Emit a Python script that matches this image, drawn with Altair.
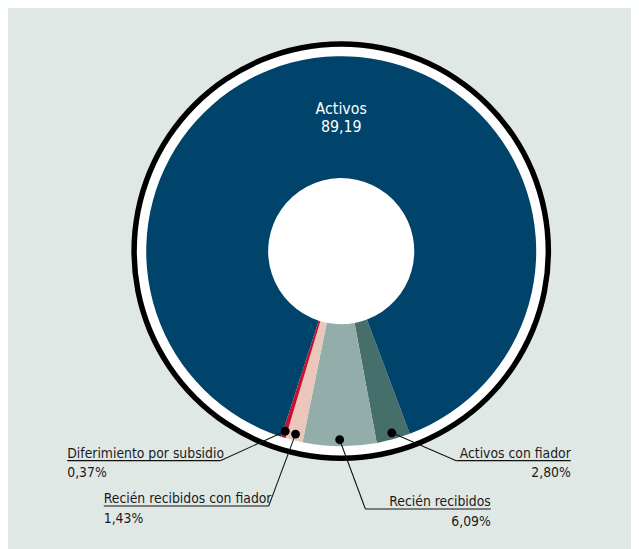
import altair as alt
import numpy as np
import pandas as pd

# ---- data ----
categories = ["Activos con fiador", "Recién recibidos", "Recién recibidos con fiador",
              "Diferimiento por subsidio", "Activos"]
values = [2.80, 6.09, 1.43, 0.37, 89.19]
pct_labels = ["2,80%", "6,09%", "1,43%", "0,37%", "89,19"]
colors = ["#466f6b", "#93adab", "#ebc6ba", "#c8102e", "#00436b"]

# ---- layout ----
W, H = 631, 541
CX, CY = 337.5, 242.8
R_OUT, R_IN = 197.5, 74
R_WHITE, R_BLACK = 207, 212.5
R_DOT = 191
START = np.deg2rad(159.4)
FONT = "DejaVu Sans Condensed"

df = pd.DataFrame({"cat": categories, "v": values, "order": range(len(values))})

# dots at mid angle of each slice (derived from data)
total = sum(values)
cum = np.cumsum([0] + values)
mid = START + 2 * np.pi * (cum[:-1] + np.array(values) / 2) / total
dots = pd.DataFrame({"cat": categories,
                     "x": CX + R_DOT * np.sin(mid),
                     "y": CY - R_DOT * np.cos(mid)})
dots = dots[dots.cat != "Activos"].reset_index(drop=True)

# callout layout (label anchor, underline)
call = pd.DataFrame({
    "cat": ["Diferimiento por subsidio", "Recién recibidos con fiador",
            "Recién recibidos", "Activos con fiador"],
    "pct": ["0,37%", "1,43%", "6,09%", "2,80%"],
    "side": ["left", "left", "right", "right"],
    "ux1": [60, 97, 489, 570],      # text anchor end of underline
    "ux2": [215, 264, 362, 454],    # elbow end
    "uy": [455, 501, 504, 455],
})
call = call.merge(dots, on="cat")
call["ty"] = call["uy"] - 3
call["py"] = call["uy"] + 17

xs = alt.Scale(domain=[0, W], range=[0, W], nice=False, zero=False)
ys = alt.Scale(domain=[0, H], range=[0, H], nice=False, zero=False)

one = pd.DataFrame({"a": [1]})

black = alt.Chart(one).mark_arc(theta=0, theta2=2 * np.pi, radius=R_BLACK, radius2=0,
                                color="#000000").encode(x=alt.value(CX), y=alt.value(CY))
white = alt.Chart(one).mark_arc(theta=0, theta2=2 * np.pi, radius=R_WHITE, radius2=0,
                                color="#ffffff").encode(x=alt.value(CX), y=alt.value(CY))

pie = alt.Chart(df).mark_arc(radius=R_OUT, radius2=R_IN).encode(
    theta=alt.Theta("v:Q", stack=True,
                    scale=alt.Scale(range=[float(START), float(START + 2 * np.pi)])),
    order=alt.Order("order:Q"),
    color=alt.Color("cat:N", scale=alt.Scale(domain=categories, range=colors), legend=None),
    x=alt.value(CX), y=alt.value(CY),
)

seg1 = alt.Chart(call).mark_rule(color="#111111", strokeWidth=1.1).encode(
    x=alt.X("x:Q", scale=xs, axis=None), y=alt.Y("y:Q", scale=ys, axis=None),
    x2="ux2:Q", y2="uy:Q")
seg2 = alt.Chart(call).mark_rule(color="#111111", strokeWidth=1.1).encode(
    x=alt.X("ux1:Q", scale=xs, axis=None), y=alt.Y("uy:Q", scale=ys, axis=None),
    x2="ux2:Q", y2="uy:Q")
dot = alt.Chart(dots).mark_circle(color="#000000", opacity=1, size=80).encode(
    x=alt.X("x:Q", scale=xs, axis=None), y=alt.Y("y:Q", scale=ys, axis=None))

def labels(side):
    d = call[call.side == side]
    base = alt.Chart(d)
    t1 = base.mark_text(align=side, baseline="alphabetic", font=FONT, fontSize=14,
                        color="#1a1a1a").encode(
        x=alt.X("ux1:Q", scale=xs, axis=None), y=alt.Y("ty:Q", scale=ys, axis=None),
        text="cat:N")
    t2 = base.mark_text(align=side, baseline="alphabetic", font=FONT, fontSize=14,
                        color="#1a1a1a").encode(
        x=alt.X("ux1:Q", scale=xs, axis=None), y=alt.Y("py:Q", scale=ys, axis=None),
        text="pct:N")
    return t1 + t2

act = pd.DataFrame({"t": ["Activos", pct_labels[-1]], "x": [CX, CX], "y": [104, 122]})
act_txt = alt.Chart(act).mark_text(align="center", baseline="alphabetic", font=FONT,
                                   fontSize=16, color="#ffffff").encode(
    x=alt.X("x:Q", scale=xs, axis=None), y=alt.Y("y:Q", scale=ys, axis=None), text="t:N")

chart = alt.layer(black, white, pie, seg1, seg2, dot, labels("left"), labels("right"),
                  act_txt).properties(width=W, height=H, padding=0,
                                      background="#e0e8e6").configure_view(stroke=None)

chart.save("out.html", embed_options={"renderer": "svg", "actions": False})
